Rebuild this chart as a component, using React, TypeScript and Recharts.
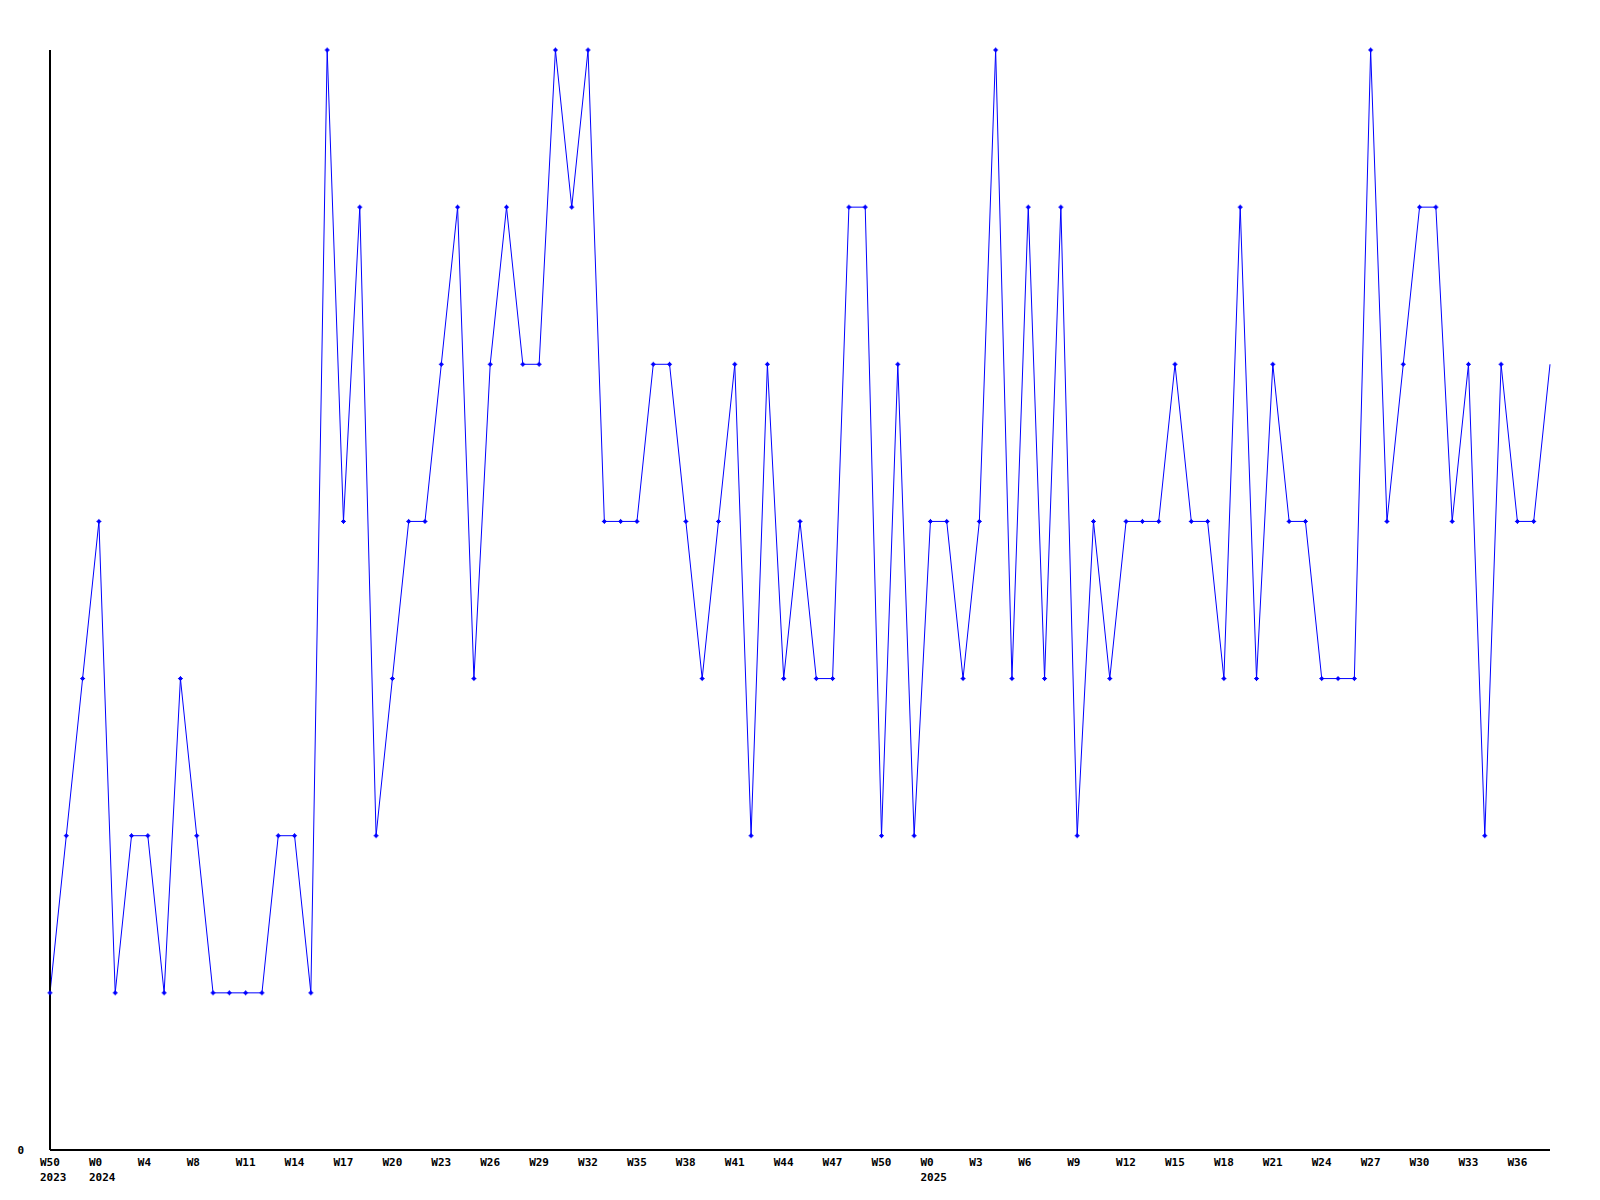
import React from "react";
import { LineChart, Line, XAxis, YAxis } from "recharts";

// Weekly values (2023 W50 .. 2025 W38)
const values: number[] = [
  1, 2, 3, 4, 1, 2, 2, 1, 3, 2,
  1, 1, 1, 1, 2, 2, 1, 7, 4, 6,
  2, 3, 4, 4, 5, 6, 3, 5, 6, 5,
  5, 7, 6, 7, 4, 4, 4, 5, 5, 4,
  3, 4, 5, 2, 5, 3, 4, 3, 3, 6,
  6, 2, 5, 2, 4, 4, 3, 4, 7, 3,
  6, 3, 6, 2, 4, 3, 4, 4, 4, 5,
  4, 4, 3, 6, 3, 5, 4, 4, 3, 3,
  3, 7, 4, 5, 6, 6, 4, 5, 2, 5,
  4, 4, 5,
];

const tickPositions: number[] = [0, 3, 6, 9, 12, 15, 18, 21, 24, 27, 30, 33, 36, 39, 42, 45, 48, 51, 54, 57, 60, 63, 66, 69, 72, 75, 78, 81, 84, 87, 90];
const tickWeeks: string[] = ["W50", "W0", "W4", "W8", "W11", "W14", "W17", "W20", "W23", "W26", "W29", "W32", "W35", "W38", "W41", "W44", "W47", "W50", "W0", "W3", "W6", "W9", "W12", "W15", "W18", "W21", "W24", "W27", "W30", "W33", "W36"];
const tickYears: string[] = ["2023", "2024", "", "", "", "", "", "", "", "", "", "", "", "", "", "", "", "", "2025", "", "", "", "", "", "", "", "", "", "", "", ""];

const data = values.map((v, i) => ({ i, v }));
const lastIndex = values.length - 1;

const FONT = "'DejaVu Sans Mono', 'Liberation Mono', monospace";

const XTick = (props: any) => {
  const { x, payload } = props;
  const k = tickPositions.indexOf(payload.value);
  const week = k >= 0 ? tickWeeks[k] : "";
  const year = k >= 0 ? tickYears[k] : "";
  return (
    <g>
      <text x={x - 10} y={1166} textAnchor="start" fontFamily={FONT} fontWeight="bold" fontSize={11} fill="#000">
        {week}
      </text>
      {year ? (
        <text x={x - 10} y={1181} textAnchor="start" fontFamily={FONT} fontWeight="bold" fontSize={11} fill="#000">
          {year}
        </text>
      ) : null}
    </g>
  );
};

const YTick = (props: any) => {
  const { x, y, payload } = props;
  return (
    <text x={x - 18} y={y + 4} textAnchor="end" fontFamily={FONT} fontWeight="bold" fontSize={11} fill="#000">
      {payload.value}
    </text>
  );
};

const Marker = (props: any) => {
  const { cx, cy, index } = props;
  if (index === lastIndex || cx == null || cy == null) return <g key={`d${index}`} />;
  return (
    <g key={`d${index}`}>
      <rect x={cx - 2.5} y={cy - 0.5} width={5} height={1} fill="#0000ff" />
      <rect x={cx - 0.5} y={cy - 2.5} width={1} height={5} fill="#0000ff" />
      <rect x={cx - 1.5} y={cy - 1.5} width={3} height={3} fill="#0000ff" />
    </g>
  );
};

export default function App() {
  return (
    <div style={{ position: "absolute", left: 0, top: 0, width: 1600, height: 1200, background: "#fff" }}>
      <LineChart width={1600} height={1200} data={data} margin={{ top: 50, right: 50, bottom: 0, left: 0 }}>
        <XAxis
          dataKey="i"
          type="number"
          domain={[0, lastIndex]}
          ticks={tickPositions}
          interval={0}
          tickLine={false}
          axisLine={{ stroke: "#000", strokeWidth: 2 }}
          tick={<XTick />}
          height={50}
          allowDecimals={false}
        />
        <YAxis
          dataKey="v"
          type="number"
          domain={[0, 7]}
          ticks={[0]}
          tickLine={false}
          axisLine={{ stroke: "#000", strokeWidth: 2 }}
          tick={<YTick />}
          width={50}
        />
        <Line
          type="linear"
          dataKey="v"
          stroke="#0000ff"
          strokeWidth={1}
          dot={<Marker />}
          activeDot={false}
          isAnimationActive={false}
        />
      </LineChart>
    </div>
  );
}
